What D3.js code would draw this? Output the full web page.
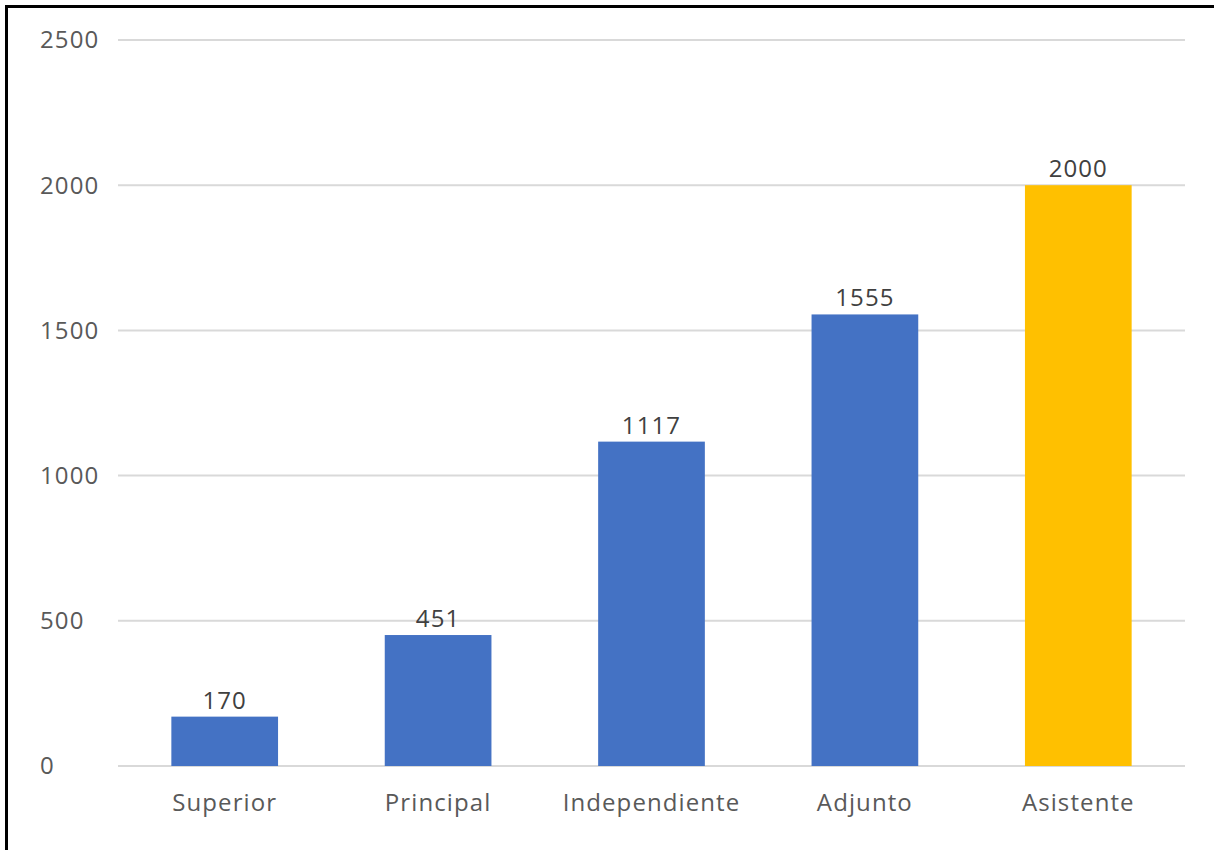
<!DOCTYPE html>
<html>
<head>
<meta charset="utf-8">
<script src="https://cdn.jsdelivr.net/npm/d3@7"></script>
<style>
    body { margin: 0; background: #fff; }
    svg { display: block; font-family: "Open Sans", "Noto Sans", sans-serif; }
    text { letter-spacing: 1.1px; }
</style>
</head>
<body>
<svg></svg>
<script>
var categories = ["Superior", "Principal", "Independiente", "Adjunto", "Asistente"];
var values = [170, 451, 1117, 1555, 2000];
var barColors = ["#4472C4", "#4472C4", "#4472C4", "#4472C4", "#FFC000"];
var yTicks = [0, 500, 1000, 1500, 2000, 2500];

var W = 1214, H = 850;
var margin = { top: 40, right: 29, bottom: 84, left: 118 },
    width = W - margin.left - margin.right,
    height = H - margin.top - margin.bottom;

var root = d3.select("svg")
    .attr("width", W)
    .attr("height", H);

// frame (only left and top edges are visible)
root.append("path")
    .attr("d", "M6.5," + H + "V6.5H" + W)
    .attr("fill", "none")
    .attr("stroke", "#000")
    .attr("stroke-width", 3);

var svg = root.append("g")
    .attr("transform", "translate(" + margin.left + "," + margin.top + ")");

var x = d3.scaleBand()
    .domain(categories)
    .range([0, width])
    .paddingInner(0.5)
    .paddingOuter(0.25);

var y = d3.scaleLinear()
    .domain([0, 2500])
    .range([height, 0]);

// gridlines
svg.append("g")
    .selectAll("line")
    .data(yTicks)
    .enter().append("line")
    .attr("x1", 0)
    .attr("x2", width)
    .attr("y1", function (d) { return y(d); })
    .attr("y2", function (d) { return y(d); })
    .attr("stroke", "#d9d9d9")
    .attr("stroke-width", 2);

// y labels
svg.append("g")
    .selectAll("text")
    .data(yTicks)
    .enter().append("text")
    .attr("x", 40 - margin.left)
    .attr("y", function (d) { return y(d); })
    .attr("dy", "0.35em")
    .attr("fill", "#595959")
    .attr("font-size", 24)
    .text(function (d) { return d; });

// bars
svg.selectAll(".bar")
    .data(values)
    .enter().append("rect")
    .attr("class", "bar")
    .attr("x", function (d, i) { return x(categories[i]); })
    .attr("y", function (d) { return y(d); })
    .attr("width", x.bandwidth())
    .attr("height", function (d) { return height - y(d); })
    .attr("fill", function (d, i) { return barColors[i]; });

// value labels
svg.selectAll(".label")
    .data(values)
    .enter().append("text")
    .attr("class", "label")
    .attr("x", function (d, i) { return x(categories[i]) + x.bandwidth() / 2; })
    .attr("y", function (d) { return y(d) - 8; })
    .attr("text-anchor", "middle")
    .attr("fill", "#404040")
    .attr("font-size", 24)
    .text(function (d) { return d; });

// category labels
svg.append("g")
    .selectAll("text")
    .data(categories)
    .enter().append("text")
    .attr("x", function (d) { return x(d) + x.bandwidth() / 2; })
    .attr("y", height + 45)
    .attr("text-anchor", "middle")
    .attr("fill", "#595959")
    .attr("font-size", 24)
    .text(function (d) { return d; });
</script>
</body>
</html>
